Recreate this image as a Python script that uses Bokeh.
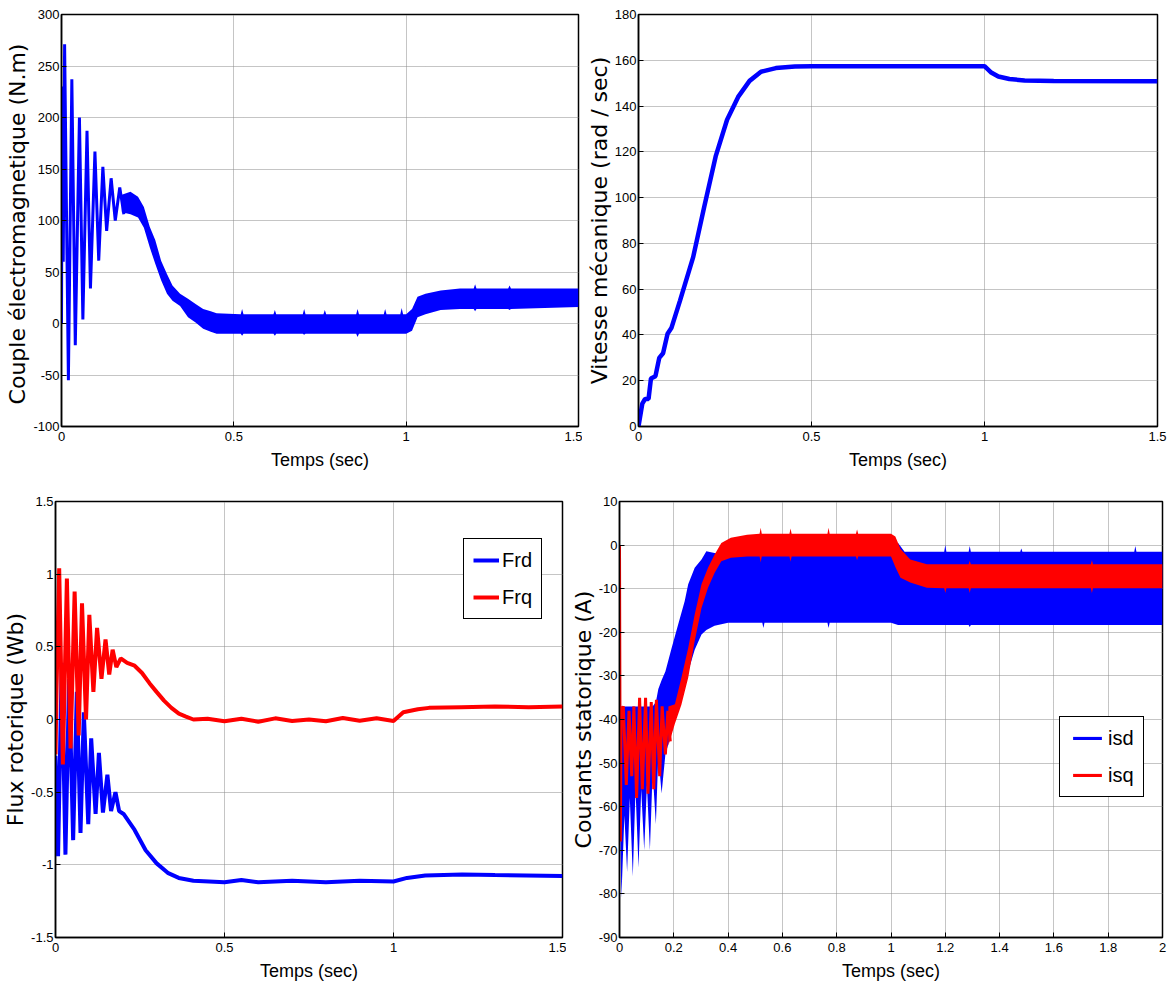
from bokeh.plotting import figure
from bokeh.layouts import column, row
from bokeh.models import (Range1d, FixedTicker, CustomJSTickFormatter, Legend, LegendItem)
from bokeh.embed import file_html
from bokeh.resources import INLINE

# ---------------- data ----------------
# Panel 1 : electromagnetic torque (N.m)
torque_osc_t = [0.000, 0.002, 0.005, 0.009, 0.020, 0.030, 0.040, 0.052, 0.062, 0.074,
                0.084, 0.097, 0.108, 0.120, 0.131, 0.144, 0.156, 0.169, 0.181]
torque_osc_v = [0, 230, 60, 271, -55, 237, -21, 200, 4, 187,
                34, 167, 61, 152, 90, 141, 100, 132, 106]
# ripple band: (t, upper, lower)
torque_band = [
    (0.175, 125, 108), (0.200, 128, 106), (0.222, 123, 103), (0.239, 113, 93),
    (0.256, 94, 74), (0.272, 81, 58), (0.289, 61, 42), (0.306, 48, 29),
    (0.322, 37, 22), (0.344, 29, 17), (0.367, 24, 6), (0.389, 19, 1),
    (0.411, 14, -5), (0.433, 12, -8), (0.450, 10, -10), (0.520, 9, -10),
    (0.524, 14, -12), (0.528, 9, -10), (0.615, 9, -10), (0.619, 13, -12),
    (0.623, 9, -10), (0.700, 9, -10), (0.704, 14, -11), (0.708, 9, -10),
    (0.760, 9, -10), (0.764, 13, -10), (0.768, 9, -10), (0.855, 9, -10),
    (0.859, 14, -13), (0.863, 9, -10), (0.935, 9, -10), (0.939, 14, -10),
    (0.943, 9, -10), (0.983, 9, -10), (0.987, 15, -10), (0.991, 9, -10),
    (1.000, 9, -10), (1.017, 14, -7), (1.033, 26, 6), (1.056, 29, 9),
    (1.100, 32, 13), (1.156, 34, 14), (1.196, 34, 14), (1.200, 38, 12),
    (1.204, 34, 14), (1.296, 34, 14), (1.300, 37, 13), (1.304, 34, 14),
    (1.500, 34, 16),
]

# Panel 2 : mechanical speed (rad/sec)
speed_t = [0, 0.011, 0.019, 0.029, 0.036, 0.049, 0.060, 0.071, 0.084, 0.095, 0.120, 0.158,
           0.190, 0.223, 0.256, 0.288, 0.321, 0.354, 0.397, 0.452, 0.500, 1.000, 1.018,
           1.040, 1.072, 1.116, 1.200, 1.500]
speed_v = [0, 10, 12, 12, 21, 22, 30, 32, 40.5, 43, 55, 74,
           96, 118, 134, 144, 151, 155, 156.6, 157.3, 157.4, 157.4, 154.8,
           152.9, 151.8, 151.2, 151, 150.8]

# Panel 3 : rotor flux (Wb)
frd = [(0, -0.25), (0.0076, -0.94), (0.0185, 0.39), (0.0294, -0.93), (0.0403, 0.28),
       (0.0522, -0.83), (0.0631, 0.19), (0.074, -0.78), (0.0838, 0.05), (0.0969, -0.72),
       (0.1056, -0.13), (0.1186, -0.65), (0.1284, -0.23), (0.1404, -0.64), (0.1535, -0.38),
       (0.1644, -0.63), (0.1774, -0.50), (0.1883, -0.63), (0.2014, -0.65), (0.234, -0.76),
       (0.2667, -0.90), (0.2993, -0.99), (0.332, -1.055), (0.3647, -1.09), (0.408, -1.11),
       (0.5, -1.12), (0.55, -1.105), (0.6, -1.12), (0.7, -1.11), (0.8, -1.12), (0.9, -1.11),
       (1.0, -1.115), (1.04, -1.09), (1.094, -1.073), (1.203, -1.066), (1.3, -1.07),
       (1.5, -1.077)]
frq = [(0, -0.24), (0.003, 0.2), (0.0109, 1.04), (0.0218, -0.31), (0.0337, 0.97),
       (0.0446, -0.20), (0.0566, 0.88), (0.0686, -0.11), (0.0784, 0.80), (0.0903, 0.0),
       (0.1001, 0.72), (0.1121, 0.19), (0.123, 0.63), (0.136, 0.28), (0.148, 0.55),
       (0.159, 0.31), (0.169, 0.48), (0.18, 0.36), (0.193, 0.42), (0.212, 0.39),
       (0.234, 0.37), (0.256, 0.32), (0.278, 0.25), (0.299, 0.19), (0.321, 0.13),
       (0.343, 0.08), (0.365, 0.04), (0.386, 0.02), (0.408, 0.0), (0.45, 0.005),
       (0.5, -0.012), (0.55, 0.005), (0.6, -0.015), (0.65, 0.008), (0.7, -0.01),
       (0.75, 0.0), (0.8, -0.012), (0.85, 0.01), (0.9, -0.008), (0.95, 0.008),
       (1.0, -0.01), (1.029, 0.05), (1.072, 0.07), (1.105, 0.08), (1.2, 0.085),
       (1.3, 0.09), (1.4, 0.085), (1.5, 0.09)]

# Panel 4 : stator currents (A)
# isd ripple band: (t, upper, lower)
isd_band = [
    (0.000, 4.4, -5), (0.004, -37, -70), (0.007, -37, -81), (0.018, -37, -62),
    (0.028, -37, -75), (0.038, -37, -58), (0.049, -37, -76), (0.059, -37, -56),
    (0.070, -37, -74), (0.080, -37, -56), (0.091, -37, -70), (0.101, -37, -55),
    (0.112, -37, -70), (0.122, -37, -52), (0.134, -36, -64), (0.143, -33, -48),
    (0.155, -31, -57), (0.169, -29, -48), (0.192, -23.6, -43), (0.216, -18.2, -37),
    (0.240, -12.9, -32), (0.253, -9, -29), (0.277, -5.2, -24), (0.302, -3.3, -20.5),
    (0.320, -1.4, -19.5), (0.350, -1.8, -18.5), (0.400, -2.5, -17.8), (0.526, -2.5, -17.8),
    (0.530, -2.5, -19), (0.534, -2.5, -17.8), (0.766, -2.5, -17.8), (0.770, -2.5, -19),
    (0.774, -2.5, -17.8), (1.000, -2.5, -17.8), (1.026, 0.5, -18.3), (1.050, -1.5, -18.3),
    (1.196, -1.5, -18.3), (1.200, 0.0, -18.3), (1.204, -1.5, -18.3), (1.286, -1.5, -18.3),
    (1.290, -0.2, -18.8), (1.294, -1.5, -18.3), (1.476, -1.5, -18.3), (1.480, -0.8, -18.3),
    (1.484, -1.5, -18.3), (1.896, -1.5, -18.3), (1.900, -0.2, -18.3), (1.904, -1.5, -18.3),
    (2.000, -1.5, -18.3),
]
# isq early oscillation
isq_osc_t = [0, 0.003, 0.006, 0.014, 0.025, 0.035, 0.045, 0.053, 0.063, 0.074, 0.084,
             0.096, 0.105, 0.117, 0.126, 0.136, 0.148, 0.157, 0.169, 0.178, 0.187]
isq_osc_v = [0, -68, -38, -37, -55, -38, -53, -37, -58, -35, -56,
             -35, -57, -36, -56, -35.5, -53, -37, -48, -38, -45]
# isq ripple band: (t, upper, lower)
isq_band = [
    (0.180, -37, -46), (0.204, -36.5, -41), (0.228, -30.4, -36.6), (0.253, -23.6, -30.4),
    (0.277, -15.9, -22), (0.302, -9, -14.4), (0.326, -5.2, -9.8), (0.350, -2.2, -6.4),
    (0.375, 0.5, -3.7), (0.410, 1.7, -2.9), (0.470, 2.4, -2.6), (0.516, 2.6, -2.6),
    (0.520, 4.0, -4.0), (0.524, 2.6, -2.6), (0.626, 2.6, -2.6), (0.630, 3.8, -3.8),
    (0.634, 2.6, -2.6), (0.766, 2.6, -2.6), (0.770, 4.0, -2.6), (0.774, 2.6, -2.6),
    (0.871, 2.6, -2.6), (0.875, 3.6, -3.5), (0.879, 2.6, -2.6), (1.000, 2.6, -2.6),
    (1.016, 2.0, -5.0), (1.035, -0.9, -7.5), (1.071, -3.3, -8.6), (1.132, -4.4, -9.8),
    (1.196, -4.4, -9.9), (1.200, -4.4, -11), (1.204, -4.4, -9.9), (1.286, -4.4, -9.9),
    (1.290, -3.6, -11), (1.294, -4.4, -9.9), (1.736, -4.4, -9.9), (1.740, -3.5, -11),
    (1.744, -4.4, -9.9), (2.000, -4.4, -9.9),
]

x_ticks_15 = [0, 0.5, 1, 1.5]
x_ticks_2 = [0, 0.2, 0.4, 0.6, 0.8, 1, 1.2, 1.4, 1.6, 1.8, 2]
y_ticks_torque = [-100, -50, 0, 50, 100, 150, 200, 250, 300]
y_ticks_speed = [0, 20, 40, 60, 80, 100, 120, 140, 160, 180]
y_ticks_flux = [-1.5, -1, -0.5, 0, 0.5, 1, 1.5]
y_ticks_curr = [-90, -80, -70, -60, -50, -40, -30, -20, -10, 0, 10]

BLUE = "#0000ff"
RED = "#ff0000"
SANS = "Liberation Sans"
WIDE = "DejaVu Sans"


def cols(rows):
    return [list(c) for c in zip(*rows)]


def make_fig(w, h, xr, yr, bl, br, bt, bb, xticks, yticks, ylabel):
    p = figure(width=w, height=h, x_range=Range1d(*xr), y_range=Range1d(*yr),
               output_backend="svg", toolbar_location=None,
               min_border_left=bl, min_border_right=br, min_border_top=bt, min_border_bottom=bb)
    p.background_fill_color = "white"
    p.border_fill_color = "white"
    p.outline_line_color = "black"
    p.outline_line_width = 1.5
    p.outline_line_alpha = 1
    fmt = CustomJSTickFormatter(code="return String(Math.round(tick*1000)/1000);")
    xa = p.xaxis[0]
    ya = p.yaxis[0]
    xa.ticker = FixedTicker(ticks=xticks)
    ya.ticker = FixedTicker(ticks=yticks)
    for a in (xa, ya):
        a.formatter = fmt
        a.major_tick_in = 5
        a.major_tick_out = 0
        a.minor_tick_line_color = None
        a.axis_line_width = 1.5
        a.major_label_text_font = SANS
        a.major_label_text_font_size = "13px"
        a.major_label_text_color = "black"
        a.axis_label_text_font_style = "normal"
        a.axis_label_text_color = "black"
    xa.major_label_standoff = 5
    xa.axis_label = "Temps (sec)"
    xa.axis_label_text_font = SANS
    xa.axis_label_text_font_size = "18px"
    xa.axis_label_standoff = 6
    ya.major_label_standoff = 2
    ya.axis_label = ylabel
    ya.axis_label_text_font = WIDE
    ya.axis_label_text_font_size = "22px"
    ya.axis_label_standoff = 0
    p.xgrid.ticker = FixedTicker(ticks=xticks)
    p.ygrid.ticker = FixedTicker(ticks=yticks)
    for g in (p.xgrid, p.ygrid):
        g.grid_line_color = "#8a8a8a"
        g.grid_line_dash = "1 1"
        g.grid_line_width = 1
    return p


def make_legend(items, loc, glyph_w, glyph_h):
    return Legend(items=items, location=loc, margin=0, padding=9, spacing=13,
                  glyph_width=glyph_w, glyph_height=glyph_h, label_height=24,
                  label_standoff=3, label_text_font=SANS, label_text_font_size="20px",
                  label_text_color="black", border_line_color="black",
                  border_line_width=1.5, border_line_alpha=1,
                  background_fill_color="white", background_fill_alpha=1)


# ---- Panel 1
p1 = make_fig(582, 490, (0, 1.5), (-100, 300), 61, 4, 14, 64,
              x_ticks_15, y_ticks_torque, "Couple  électromagnetique (N.m)")
tb_t, tb_hi, tb_lo = cols(torque_band)
p1.varea(x=tb_t, y1=tb_lo, y2=tb_hi, fill_color=BLUE)
p1.line(torque_osc_t, torque_osc_v, line_color=BLUE, line_width=3)

# ---- Panel 2
p2 = make_fig(588, 490, (0, 1.5), (0, 180), 56, 13, 14, 64,
              x_ticks_15, y_ticks_speed, "Vitesse mécanique (rad / sec)")
p2.line(speed_t, speed_v, line_color=BLUE, line_width=4.5)

# ---- Panel 3
p3 = make_fig(566, 513, (0, 1.5), (-1.5, 1.5), 53, 4, 9, 61,
              x_ticks_15, y_ticks_flux, "Flux rotorique (Wb)")
frd_t, frd_v = cols(frd)
frq_t, frq_v = cols(frq)
r_frd = p3.line(frd_t, frd_v, line_color=BLUE, line_width=4)
r_frq = p3.line(frq_t, frq_v, line_color=RED, line_width=4)
p3.add_layout(make_legend([LegendItem(label="Frd", renderers=[r_frd]),
                           LegendItem(label="Frq", renderers=[r_frq])], (408, 318), 26, 24))

# ---- Panel 4
p4 = make_fig(604, 513, (0, 2), (-90, 10), 53, 8, 11, 66,
              x_ticks_2, y_ticks_curr, "Courants statorique (A)")
ib_t, ib_hi, ib_lo = cols(isd_band)
r_isd = p4.varea(x=ib_t, y1=ib_lo, y2=ib_hi, fill_color=BLUE)
p4.line(isq_osc_t, isq_osc_v, line_color=RED, line_width=3)
qb_t, qb_hi, qb_lo = cols(isq_band)
r_isq = p4.varea(x=qb_t, y1=qb_lo, y2=qb_hi, fill_color=RED)
p4.add_layout(make_legend([LegendItem(label="isd", renderers=[r_isd]),
                           LegendItem(label="isq", renderers=[r_isq])], (440, 140), 36, 4))

layout = column(row(p1, p2), row(p3, p4))
open("out.html", "w").write(file_html(layout, INLINE))
